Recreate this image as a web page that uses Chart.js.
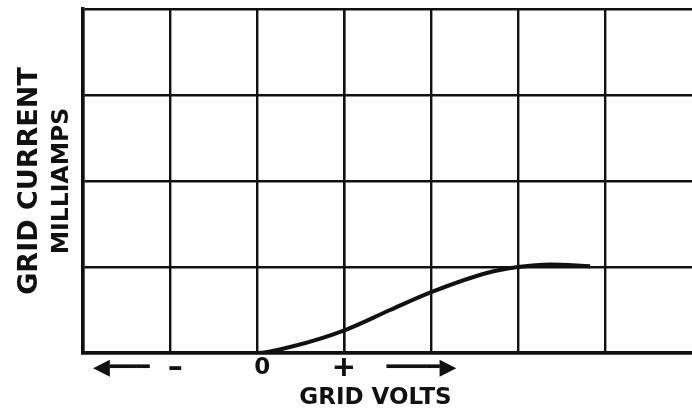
<!DOCTYPE html>
<html><head><meta charset="utf-8">
<script src="https://cdn.jsdelivr.net/npm/chart.js@4"></script>
<style>html,body{margin:0;padding:0;background:#fff}canvas{display:block}</style>
</head><body>
<canvas id="c" width="692" height="414"></canvas>
<script>
// Curve (x in grid columns, y in grid rows)
const curveVolts   = [0, 1, 2, 2.38, 3.02, 3.53, 4.01, 4.64, 5.0, 5.37, 5.83];
const curveCurrent = [0, 0, 0, 0.07, 0.27, 0.50, 0.71, 0.93, 1.00, 1.03, 1.01];
// Grid lines
const gridColumns = [0, 1, 2, 3, 4, 5, 6];
const gridRows = [0, 1, 2, 3, 4];
// Tick labels under the x axis
const labelTicks = [0.44, 1.06, 2.06, 3.0, 3.89];
const labelTexts = ['◀━━━', '–', '0', '+', '━━━━▶'];
const labelSizes = [22, 30, 23, 29, 22];
const xTitle = 'GRID VOLTS';
const yTitleOuter = 'GRID CURRENT';
const yTitleInner = 'MILLIAMPS';

const INK = '#111';
const FONT = "'DejaVu Sans', sans-serif";

new Chart(document.getElementById('c'), {
  type: 'line',
  data: {
    datasets: [{
      data: curveVolts.map((v, i) => ({x: v, y: curveCurrent[i]})),
      borderColor: INK,
      borderWidth: 4,
      pointRadius: 0,
      cubicInterpolationMode: 'monotone',
      fill: false
    }]
  },
  options: {
    responsive: false,
    animation: false,
    layout: {padding: {top: 9, right: 0, left: 0, bottom: 0}},
    plugins: {legend: {display: false}, tooltip: {enabled: false}},
    scales: {
      x: {
        type: 'linear',
        min: 0, max: 7,
        afterBuildTicks: (s) => {
          const vals = gridColumns.concat(labelTicks).sort((a, b) => a - b);
          s.ticks = vals.map(v => ({value: v}));
        },
        afterFit: (s) => { s.height = 61; },
        grid: {
          drawTicks: false,
          color: (ctx) => (ctx.tick && gridColumns.includes(ctx.tick.value)) ? INK : 'rgba(0,0,0,0)',
          lineWidth: 2.4
        },
        border: {display: true, color: INK, width: 3.5},
        ticks: {
          autoSkip: false,
          maxRotation: 0,
          padding: 2,
          color: INK,
          font: (ctx) => {
            const i = ctx.tick ? labelTicks.indexOf(ctx.tick.value) : -1;
            return {family: FONT, size: i >= 0 ? labelSizes[i] : 22, weight: 'bold', lineHeight: '26px'};
          },
          callback: (value) => {
            const i = labelTicks.indexOf(value);
            return i >= 0 ? labelTexts[i] : '';
          }
        },
        title: {
          display: true,
          text: xTitle + '\u00a0\u00a0\u00a0',
          color: INK,
          font: {family: FONT, size: 23, weight: 'bold', lineHeight: 1.2},
          padding: {top: 0, bottom: 2}
        }
      },
      y: {
        type: 'linear',
        position: 'left',
        weight: 0,
        min: 0, max: 4,
        afterBuildTicks: (s) => { s.ticks = gridRows.map(v => ({value: v})); },
        afterFit: (s) => { s.width = 37; },
        grid: {drawTicks: false, color: INK, lineWidth: 2.4},
        border: {display: true, color: INK, width: 3.5},
        ticks: {display: false},
        title: {
          display: true,
          text: yTitleInner,
          color: INK,
          font: {family: FONT, size: 23.5, weight: 'bold', lineHeight: 1.2},
          padding: {top: 2, bottom: 0}
        }
      },
      y2: {
        type: 'linear',
        position: 'left',
        weight: 1,
        min: 0, max: 4,
        afterFit: (s) => { s.width = 46; },
        grid: {display: false, drawTicks: false},
        border: {display: false},
        ticks: {display: false},
        title: {
          display: true,
          text: yTitleOuter,
          color: INK,
          font: {family: FONT, size: 27, weight: 'bold', lineHeight: 1.2},
          padding: {top: 14, bottom: 0}
        }
      }
    }
  }
});
</script>
</body></html>
